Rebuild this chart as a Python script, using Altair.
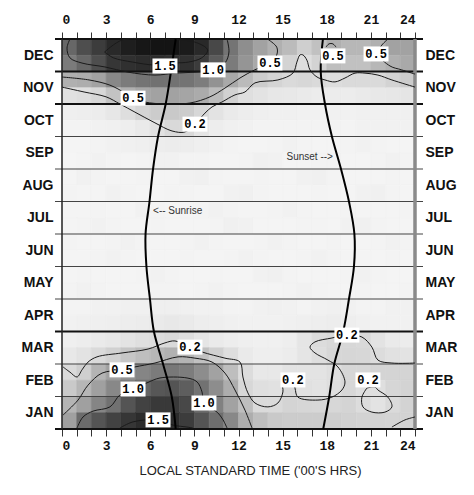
import altair as alt
import pandas as pd

months = ["JAN", "FEB", "MAR", "APR", "MAY", "JUN", "JUL", "AUG", "SEP", "OCT", "NOV", "DEC"]
hour_ticks = list(range(25))

# Intensity field: half-month rows from the top (late DEC) to the bottom (early JAN),
# hourly columns 0-1 ... 23-24
intensity_rows = [
    [1.05, 1.25, 1.4, 1.6, 1.75, 1.85, 1.9, 1.9, 1.8, 1.6, 1.3, 0.95, 0.75, 0.6, 0.5, 0.42, 0.28, 0.38, 0.5, 0.45, 0.45, 0.5, 0.6, 0.6],
    [0.9, 1.05, 1.25, 1.45, 1.5, 1.55, 1.55, 1.5, 1.5, 1.4, 1.15, 0.9, 0.7, 0.55, 0.45, 0.25, 0.18, 0.25, 0.4, 0.38, 0.38, 0.45, 0.5, 0.55],
    [0.5, 0.52, 0.6, 0.8, 0.9, 0.95, 0.98, 0.97, 0.95, 0.88, 0.72, 0.55, 0.42, 0.3, 0.24, 0.2, 0.22, 0.2, 0.18, 0.2, 0.2, 0.2, 0.25, 0.3],
    [0.16, 0.18, 0.22, 0.36, 0.5, 0.57, 0.6, 0.6, 0.58, 0.54, 0.42, 0.26, 0.17, 0.15, 0.13, 0.12, 0.11, 0.1, 0.1, 0.1, 0.11, 0.12, 0.13, 0.14],
    [0.07, 0.08, 0.1, 0.13, 0.18, 0.24, 0.3, 0.32, 0.3, 0.22, 0.15, 0.11, 0.09, 0.07, 0.06, 0.06, 0.05, 0.05, 0.05, 0.05, 0.06, 0.06, 0.06, 0.06],
    [0.04, 0.04, 0.05, 0.06, 0.08, 0.11, 0.16, 0.21, 0.21, 0.14, 0.09, 0.06, 0.05, 0.04, 0.04, 0.04, 0.04, 0.04, 0.04, 0.04, 0.05, 0.05, 0.05, 0.05],
    [0.03, 0.03, 0.04, 0.05, 0.06, 0.07, 0.09, 0.1, 0.09, 0.07, 0.05, 0.04, 0.03, 0.03, 0.04, 0.05, 0.04, 0.03, 0.03, 0.04, 0.05, 0.04, 0.03, 0.03],
    [0.02, 0.03, 0.05, 0.04, 0.03, 0.04, 0.05, 0.05, 0.04, 0.04, 0.03, 0.03, 0.04, 0.06, 0.05, 0.03, 0.03, 0.04, 0.04, 0.03, 0.03, 0.04, 0.05, 0.04],
    [0.03, 0.05, 0.04, 0.03, 0.03, 0.04, 0.03, 0.03, 0.05, 0.06, 0.04, 0.03, 0.03, 0.04, 0.03, 0.03, 0.05, 0.06, 0.04, 0.03, 0.03, 0.03, 0.04, 0.03],
    [0.04, 0.03, 0.03, 0.05, 0.04, 0.03, 0.03, 0.04, 0.04, 0.03, 0.03, 0.05, 0.06, 0.04, 0.03, 0.03, 0.03, 0.04, 0.03, 0.03, 0.05, 0.06, 0.04, 0.03],
    [0.03, 0.03, 0.04, 0.03, 0.03, 0.05, 0.04, 0.03, 0.03, 0.04, 0.05, 0.04, 0.03, 0.03, 0.04, 0.05, 0.04, 0.03, 0.03, 0.04, 0.03, 0.03, 0.03, 0.04],
    [0.03, 0.04, 0.05, 0.04, 0.03, 0.03, 0.04, 0.03, 0.03, 0.03, 0.04, 0.06, 0.05, 0.03, 0.03, 0.03, 0.04, 0.04, 0.03, 0.05, 0.06, 0.04, 0.03, 0.03],
    [0.04, 0.03, 0.03, 0.04, 0.05, 0.04, 0.03, 0.03, 0.04, 0.05, 0.04, 0.03, 0.03, 0.04, 0.05, 0.04, 0.03, 0.03, 0.04, 0.03, 0.03, 0.04, 0.05, 0.04],
    [0.03, 0.03, 0.04, 0.05, 0.04, 0.03, 0.03, 0.03, 0.04, 0.03, 0.03, 0.04, 0.05, 0.04, 0.03, 0.03, 0.04, 0.05, 0.04, 0.03, 0.03, 0.03, 0.04, 0.03],
    [0.03, 0.04, 0.03, 0.03, 0.03, 0.04, 0.05, 0.04, 0.03, 0.03, 0.04, 0.03, 0.03, 0.05, 0.06, 0.04, 0.03, 0.03, 0.03, 0.04, 0.05, 0.04, 0.03, 0.03],
    [0.04, 0.05, 0.04, 0.03, 0.03, 0.03, 0.04, 0.04, 0.03, 0.04, 0.05, 0.04, 0.03, 0.03, 0.03, 0.04, 0.05, 0.04, 0.03, 0.03, 0.04, 0.03, 0.03, 0.04],
    [0.04, 0.04, 0.05, 0.05, 0.06, 0.06, 0.07, 0.07, 0.06, 0.05, 0.05, 0.04, 0.04, 0.05, 0.06, 0.05, 0.04, 0.05, 0.06, 0.05, 0.04, 0.04, 0.05, 0.05],
    [0.05, 0.06, 0.07, 0.08, 0.09, 0.1, 0.11, 0.12, 0.11, 0.09, 0.08, 0.06, 0.05, 0.05, 0.05, 0.06, 0.07, 0.08, 0.09, 0.08, 0.06, 0.05, 0.05, 0.05],
    [0.07, 0.09, 0.11, 0.13, 0.15, 0.17, 0.19, 0.21, 0.18, 0.14, 0.11, 0.09, 0.07, 0.06, 0.06, 0.08, 0.14, 0.19, 0.21, 0.22, 0.21, 0.15, 0.11, 0.1],
    [0.12, 0.15, 0.2, 0.26, 0.34, 0.4, 0.45, 0.49, 0.47, 0.38, 0.27, 0.18, 0.11, 0.08, 0.08, 0.1, 0.14, 0.18, 0.22, 0.23, 0.22, 0.19, 0.16, 0.15],
    [0.2, 0.28, 0.47, 0.62, 0.72, 0.82, 0.9, 0.92, 0.88, 0.76, 0.6, 0.4, 0.19, 0.12, 0.12, 0.15, 0.15, 0.15, 0.17, 0.23, 0.23, 0.24, 0.24, 0.24],
    [0.32, 0.46, 0.62, 0.8, 0.95, 1.08, 1.18, 1.2, 1.12, 0.97, 0.76, 0.52, 0.22, 0.17, 0.16, 0.22, 0.16, 0.15, 0.17, 0.22, 0.18, 0.17, 0.23, 0.25],
    [0.47, 0.62, 0.82, 0.98, 1.2, 1.35, 1.42, 1.42, 1.3, 1.02, 0.85, 0.6, 0.4, 0.2, 0.2, 0.24, 0.23, 0.22, 0.22, 0.24, 0.19, 0.15, 0.2, 0.25],
    [0.62, 1.02, 1.2, 1.35, 1.45, 1.55, 1.6, 1.55, 1.4, 1.2, 1.0, 0.8, 0.52, 0.4, 0.32, 0.3, 0.3, 0.3, 0.28, 0.26, 0.25, 0.25, 0.24, 0.25],
]

# Sunrise / sunset (hours) at month boundaries 0 (start JAN) ... 12 (end DEC)
month_edges = list(range(13))
sunrise_h = [7.73, 7.46, 6.87, 6.25, 5.98, 5.74, 5.68, 5.95, 6.19, 6.53, 7.05, 7.41, 7.73]
sunset_h = [17.76, 18.17, 18.51, 19.12, 19.51, 19.85, 19.88, 19.51, 18.97, 18.35, 17.88, 17.59, 17.74]

# Contour lines as (hour, month-position) points
contour_15_dec = [(2.9, 11.6), (4.1, 11.97), (6.3, 11.99), (9.0, 11.91), (9.9, 11.66), (9.5, 11.42),
                  (8.6, 11.29), (7.7, 11.26), (6.3, 11.2), (4.8, 11.29), (3.5, 11.42), (2.9, 11.6)]
contour_10_dec = [(0.54, 12.0), (0.34, 11.72), (0.54, 11.42), (1.36, 11.26), (2.92, 11.14), (4.49, 10.98),
                  (6.32, 10.89), (7.68, 10.95), (9.04, 10.98), (10.27, 11.05), (11.08, 11.26), (11.35, 11.6),
                  (11.22, 12.0)]
contour_05_nov = [(0.0, 10.83), (1.84, 10.74), (3.26, 10.58), (4.28, 10.34), (4.83, 10.18), (5.64, 10.06),
                  (7.0, 10.0), (8.7, 10.03), (10.06, 10.22), (11.08, 10.49), (12.1, 10.8), (13.1, 11.05),
                  (14.14, 11.26), (14.6, 11.51), (14.6, 11.75), (14.0, 11.99)]
contour_02_nov = [(0.0, 10.52), (1.5, 10.37), (3.0, 10.22), (3.94, 10.0), (4.96, 9.75), (6.32, 9.42),
                  (7.48, 9.17), (8.36, 9.14), (9.04, 9.38), (9.72, 9.72), (10.2, 9.91), (10.87, 10.06),
                  (11.76, 10.28), (12.44, 10.37), (13.12, 10.65), (14.68, 10.74), (15.7, 10.95),
                  (15.97, 11.29), (16.18, 11.51), (16.38, 11.51), (16.65, 11.35), (16.86, 11.05),
                  (17.34, 10.83), (17.88, 10.74), (18.56, 10.68), (19.24, 10.8), (19.92, 10.95),
                  (20.6, 10.95), (21.48, 10.89), (22.43, 10.74), (24.0, 10.52)]
contour_05_dec_a = [(17.95, 11.75), (18.15, 11.85), (18.42, 11.85), (18.63, 11.75)]
contour_05_dec_b = [(22.16, 12.0), (21.69, 11.78), (21.48, 11.54), (22.3, 11.17), (23.1, 11.05), (24.0, 10.92)]
contour_02_feb = [(0.07, 1.91), (0.54, 1.75), (1.02, 1.6), (1.36, 1.82), (1.77, 2.06), (2.38, 2.22),
                  (4.08, 2.34), (5.85, 2.46), (7.0, 2.65), (7.68, 2.71), (8.7, 2.52), (9.52, 2.37),
                  (11.08, 2.18), (12.1, 2.06), (12.3, 1.6), (12.64, 1.11), (13.12, 0.8), (14.0, 0.68),
                  (14.68, 0.8), (15.02, 1.14), (15.02, 1.42), (15.7, 1.51), (15.84, 1.26), (16.04, 0.98),
                  (17.4, 0.89), (18.35, 0.98), (19.03, 1.2), (19.24, 1.45), (18.76, 1.91), (18.08, 2.12),
                  (17.2, 2.34), (16.86, 2.52), (17.2, 2.68), (18.35, 2.8), (19.37, 2.89), (20.39, 2.83),
                  (21.07, 2.52), (21.48, 2.12), (22.43, 2.03), (24.0, 2.03)]
contour_02_loop = [(20.73, 1.26), (20.39, 0.98), (20.46, 0.68), (21.07, 0.52), (21.96, 0.52), (22.43, 0.68),
                   (22.16, 0.98), (21.48, 1.2), (21.28, 1.29), (20.73, 1.26)]
contour_02_jan = [(22.43, 0.06), (23.32, 0.28), (24.0, 0.37)]
contour_05_feb = [(0.07, 0.43), (1.09, 0.89), (1.77, 1.35), (2.72, 1.72), (4.08, 1.82), (4.96, 1.91),
                  (6.32, 2.03), (7.89, 2.22), (9.04, 2.18), (10.2, 2.06), (11.08, 1.72), (11.76, 1.2),
                  (12.44, 0.58), (12.92, 0.03)]
contour_10_jan = [(1.02, 0.03), (1.43, 0.37), (2.11, 0.55), (3.26, 0.68), (3.94, 1.05), (4.83, 1.23),
                  (5.78, 1.42), (6.66, 1.57), (8.5, 1.57), (9.18, 1.45), (9.52, 1.14), (9.65, 0.8),
                  (10.54, 0.52), (10.95, 0.28), (11.22, 0.03)]
contour_15_jan = [(3.94, 0.03), (4.83, 0.22), (6.53, 0.28), (7.55, 0.12), (8.5, 0.06), (8.9, 0.03)]

contours = [contour_15_dec, contour_10_dec, contour_05_nov, contour_02_nov, contour_05_dec_a,
            contour_05_dec_b, contour_02_feb, contour_02_loop, contour_02_jan, contour_05_feb,
            contour_10_jan, contour_15_jan]

label_text = ["1.5", "1.0", "0.5", "0.5", "0.5", "0.5", "0.2",
              "0.2", "0.2", "0.5", "1.0", "1.0", "1.5", "0.2", "0.2"]
label_h = [7.0, 10.27, 14.14, 18.42, 21.35, 4.83, 9.04,
           19.37, 8.7, 4.08, 4.83, 9.65, 6.53, 15.7, 20.8]
label_m = [11.17, 11.05, 11.26, 11.48, 11.54, 10.18, 9.38,
           2.89, 2.52, 1.82, 1.23, 0.8, 0.28, 1.51, 1.51]

note_sunset = {"text": "Sunset -->", "h": 18.42, "m": 8.37}
note_sunrise = {"text": "<-- Sunrise", "h": 6.19, "m": 6.71}

thick_edges = [0, 3, 10, 11, 12]
thin_edges = [1, 2, 4, 5, 6, 7, 8, 9]

# ---------------------------------------------------------------- tables
heat_records = []
for r, row in enumerate(intensity_rows):
    m_top = 12 - 0.5 * r
    for c, v in enumerate(row):
        heat_records.append({"h0": c, "h1": c + 1, "m0": m_top - 0.5, "m1": m_top, "v": v})
heat_df = pd.DataFrame(heat_records)

contour_records = []
for cid, pts in enumerate(contours):
    for i, (h, m) in enumerate(pts):
        contour_records.append({"cid": cid, "i": i, "h": h, "m": m})
contour_df = pd.DataFrame(contour_records)

sun_df = pd.DataFrame(
    [{"which": "rise", "m": m, "h": h} for m, h in zip(month_edges, sunrise_h)]
    + [{"which": "set", "m": m, "h": h} for m, h in zip(month_edges, sunset_h)]
)
label_df = pd.DataFrame({"t": label_text, "h": label_h, "m": label_m})

W, H = 353, 390
xs = alt.Scale(domain=[0, 24], nice=False, zero=False)
ys = alt.Scale(domain=[0, 12], nice=False, zero=False)
gray = alt.Scale(domain=[0, 0.1, 0.2, 0.5, 1.0, 1.5, 2.0],
                 range=["#f7f7f7", "#ececec", "#dadada", "#b0b0b0", "#6e6e6e", "#303030", "#0a0a0a"])

month_expr = "['" + "','".join(months) + "'][floor(datum.value)]"
hour_expr = "datum.value % 3 == 0 ? datum.label : ''"
month_centres = [i + 0.5 for i in range(12)]

axis_bottom = alt.Axis(orient="bottom", values=hour_ticks, labelExpr=hour_expr, tickSize=7,
                       tickColor="#333", domain=False, grid=False, labelFont="Liberation Mono",
                       labelFontWeight="bold", labelFontSize=13, labelColor="#111", labelPadding=3,
                       title="LOCAL STANDARD TIME ('00'S HRS)", titleFont="Liberation Sans",
                       titleFontWeight="normal", titleFontSize=13, titleColor="#222",
                       titleX=188, titleY=41, titleBaseline="middle", titleAlign="center")
axis_top = alt.Axis(orient="top", values=hour_ticks, labelExpr=hour_expr, tickSize=7,
                    tickColor="#333", domain=False, grid=False, labelFont="Liberation Mono",
                    labelFontWeight="bold", labelFontSize=13, labelColor="#111", labelPadding=6,
                    title=None)
axis_left = alt.Axis(orient="left", values=month_centres, labelExpr=month_expr, ticks=False,
                     domain=False, grid=False, labelFont="Liberation Sans", labelFontWeight="bold",
                     labelFontSize=14, labelColor="#111", labelPadding=9, title=None)
axis_right = alt.Axis(orient="right", values=month_centres, labelExpr=month_expr, ticks=False,
                      domain=False, grid=False, labelFont="Liberation Sans", labelFontWeight="bold",
                      labelFontSize=14, labelColor="#111", labelPadding=10, title=None)

heat = alt.Chart(heat_df).mark_rect(strokeWidth=0.6).encode(
    x=alt.X("h0:Q", scale=xs, axis=axis_bottom),
    x2="h1",
    y=alt.Y("m0:Q", scale=ys, axis=axis_left),
    y2="m1",
    fill=alt.Fill("v:Q", scale=gray, legend=None),
    stroke=alt.Stroke("v:Q", scale=gray, legend=None),
)

thin_rules = alt.Chart(pd.DataFrame({"m": thin_edges})).mark_rule(color="#444", strokeWidth=1).encode(
    y=alt.Y("m:Q", scale=ys, axis=None), x=alt.value(-7), x2=alt.value(W + 8))
thick_rules = alt.Chart(pd.DataFrame({"m": thick_edges})).mark_rule(color="#111", strokeWidth=2).encode(
    y=alt.Y("m:Q", scale=ys, axis=None), x=alt.value(-7), x2=alt.value(W + 8))

left_border = alt.Chart(pd.DataFrame({"h": [0]})).mark_rule(color="#222", strokeWidth=1.5).encode(
    x=alt.X("h:Q", scale=xs, axis=None), y=alt.value(0), y2=alt.value(H))
right_border = alt.Chart(pd.DataFrame({"h": [24]})).mark_rule(color="#8a8a8a", strokeWidth=3.5).encode(
    x=alt.X("h:Q", scale=xs, axis=None), y=alt.value(0), y2=alt.value(H))

contour_lines = alt.Chart(contour_df).mark_line(color="#1a1a1a", strokeWidth=1,
                                                interpolate="catmull-rom").encode(
    x=alt.X("h:Q", scale=xs, axis=None),
    y=alt.Y("m:Q", scale=ys, axis=None),
    detail="cid:N",
    order="i:Q",
)

sun_lines = alt.Chart(sun_df).mark_line(color="#000", strokeWidth=2, interpolate="catmull-rom").encode(
    x=alt.X("h:Q", scale=xs, axis=None),
    y=alt.Y("m:Q", scale=ys, axis=None),
    detail="which:N",
    order="m:Q",
)

boxes = alt.Chart(label_df).mark_rect(fill="white", width=25, height=15).encode(
    x=alt.X("h:Q", scale=xs, axis=None), y=alt.Y("m:Q", scale=ys, axis=None))
labels = alt.Chart(label_df).mark_text(font="Liberation Mono", fontWeight="bold", fontSize=12,
                                       color="#000", align="center", baseline="middle").encode(
    x=alt.X("h:Q", scale=xs, axis=None), y=alt.Y("m:Q", scale=ys, axis=None), text="t:N")

sunset_note = alt.Chart(pd.DataFrame([note_sunset])).mark_text(
    font="Liberation Sans", fontSize=10, color="#333", align="right", baseline="middle").encode(
    x=alt.X("h:Q", scale=xs, axis=None), y=alt.Y("m:Q", scale=ys, axis=None), text="text:N")
sunrise_note = alt.Chart(pd.DataFrame([note_sunrise])).mark_text(
    font="Liberation Sans", fontSize=10, color="#333", align="left", baseline="middle").encode(
    x=alt.X("h:Q", scale=xs, axis=None), y=alt.Y("m:Q", scale=ys, axis=None), text="text:N")

axis_layer = alt.Chart(pd.DataFrame({"h": [0, 24], "m": [0, 12]})).mark_point(opacity=0).encode(
    x=alt.X("h:Q", scale=xs, axis=axis_top), y=alt.Y("m:Q", scale=ys, axis=axis_right))

chart = alt.layer(
    heat, thin_rules, thick_rules, left_border, right_border, contour_lines, sun_lines,
    boxes, labels, sunset_note, sunrise_note, axis_layer,
).resolve_scale(x="independent", y="independent").properties(
    width=W, height=H,
    autosize=alt.AutoSizeParams(type="none"),
    padding={"left": 54, "top": 31, "right": 51, "bottom": 58},
).configure_view(stroke=None)

chart.save("out.html", embed_options={"renderer": "svg", "actions": False})
